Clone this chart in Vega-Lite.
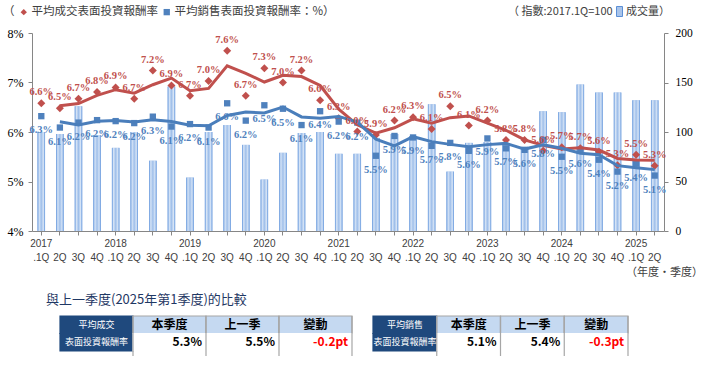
{
  "$schema": "https://vega.github.io/schema/vega-lite/v6.json",
  "background": "white",
  "padding": {"left": 3, "top": 6, "right": 0, "bottom": 0},
  "bounds": "flush",
  "spacing": 85,
  "resolve": {"scale": {"color": "independent", "fill": "independent", "shape": "independent"}, "legend": {"color": "independent", "fill": "independent", "shape": "independent"}},
  "config": {
    "view": {"stroke": null},
    "font": "Noto Sans CJK TC",
    "axis": {"domainColor": "#868686", "tickColor": "#868686", "grid": false}
  },
  "datasets": {
    "main": [
      {"q": "2017 .1Q", "v": 100, "r": 0.0658, "b": 0.0632, "rm": null, "bm": null},
      {"q": "2017 2Q", "v": 98, "r": 0.0648, "b": 0.0609, "rm": 0.0653, "bm": 0.06205},
      {"q": "2017 3Q", "v": 126, "r": 0.0667, "b": 0.0619, "rm": 0.06575, "bm": 0.0614},
      {"q": "2017 4Q", "v": 97, "r": 0.0681, "b": 0.0624, "rm": 0.0674, "bm": 0.06215},
      {"q": "2018 .1Q", "v": 84, "r": 0.0690, "b": 0.0622, "rm": 0.06855, "bm": 0.0623},
      {"q": "2018 2Q", "v": 100, "r": 0.0667, "b": 0.0618, "rm": 0.06785, "bm": 0.0620},
      {"q": "2018 3Q", "v": 71, "r": 0.0724, "b": 0.0631, "rm": 0.06955, "bm": 0.06245},
      {"q": "2018 4Q", "v": 146, "r": 0.0694, "b": 0.0611, "rm": 0.0709, "bm": 0.0621},
      {"q": "2019 .1Q", "v": 54, "r": 0.0673, "b": 0.0616, "rm": 0.06835, "bm": 0.06135},
      {"q": "2019 2Q", "v": 100, "r": 0.0703, "b": 0.0609, "rm": 0.0688, "bm": 0.06125},
      {"q": "2019 3Q", "v": 107, "r": 0.0764, "b": 0.0658, "rm": 0.07335, "bm": 0.06335},
      {"q": "2019 4Q", "v": 87, "r": 0.0673, "b": 0.0623, "rm": 0.07185, "bm": 0.06405},
      {"q": "2020 .1Q", "v": 52, "r": 0.0729, "b": 0.0654, "rm": 0.0701, "bm": 0.06385},
      {"q": "2020 2Q", "v": 79, "r": 0.0700, "b": 0.0647, "rm": 0.07145, "bm": 0.06505},
      {"q": "2020 3Q", "v": 99, "r": 0.0724, "b": 0.0614, "rm": 0.0712, "bm": 0.06305},
      {"q": "2020 4Q", "v": 100, "r": 0.0664, "b": 0.0642, "rm": 0.0694, "bm": 0.0628},
      {"q": "2021 .1Q", "v": 78, "r": 0.0628, "b": 0.0621, "rm": 0.0646, "bm": 0.06315},
      {"q": "2021 2Q", "v": 78, "r": 0.0601, "b": 0.0619, "rm": 0.06145, "bm": 0.0620},
      {"q": "2021 3Q", "v": 94, "r": 0.0594, "b": 0.0552, "rm": 0.05975, "bm": 0.05855},
      {"q": "2021 4Q", "v": 98, "r": 0.0623, "b": 0.0592, "rm": 0.06085, "bm": 0.0572},
      {"q": "2022 .1Q", "v": 96, "r": 0.0630, "b": 0.0589, "rm": 0.06265, "bm": 0.05905},
      {"q": "2022 2Q", "v": 128, "r": 0.0606, "b": 0.0572, "rm": 0.0618, "bm": 0.05805},
      {"q": "2022 3Q", "v": 60, "r": 0.0652, "b": 0.0578, "rm": 0.0629, "bm": 0.0575},
      {"q": "2022 4Q", "v": 89, "r": 0.0613, "b": 0.0562, "rm": 0.06325, "bm": 0.0570},
      {"q": "2023 .1Q", "v": 90, "r": 0.0623, "b": 0.0587, "rm": 0.0618, "bm": 0.05745},
      {"q": "2023 2Q", "v": 88, "r": 0.0584, "b": 0.0567, "rm": 0.06035, "bm": 0.0577},
      {"q": "2023 3Q", "v": 83, "r": 0.0584, "b": 0.0564, "rm": 0.0584, "bm": 0.05655},
      {"q": "2023 4Q", "v": 121, "r": 0.0562, "b": 0.0584, "rm": 0.0573, "bm": 0.0574},
      {"q": "2024 .1Q", "v": 120, "r": 0.0569, "b": 0.0550, "rm": 0.05655, "bm": 0.0567},
      {"q": "2024 2Q", "v": 148, "r": 0.0567, "b": 0.0564, "rm": 0.0568, "bm": 0.0557},
      {"q": "2024 3Q", "v": 140, "r": 0.0560, "b": 0.0544, "rm": 0.05635, "bm": 0.0554},
      {"q": "2024 4Q", "v": 140, "r": 0.0533, "b": 0.0520, "rm": 0.05465, "bm": 0.0532},
      {"q": "2025 .1Q", "v": 132, "r": 0.0554, "b": 0.0536, "rm": 0.05435, "bm": 0.0528},
      {"q": "2025 2Q", "v": 132, "r": 0.0532, "b": 0.0512, "rm": 0.0543, "bm": 0.0524}
    ],
    "table": [
      {"tbl": 1, "col": "label", "row": "header", "kind": "label", "text": "平均成交"},
      {"tbl": 1, "col": "label", "row": "value", "kind": "label", "text": "表面投資報酬率"},
      {"tbl": 1, "col": "cur", "row": "header", "kind": "header", "text": "本季度"},
      {"tbl": 1, "col": "prev", "row": "header", "kind": "header", "text": "上一季"},
      {"tbl": 1, "col": "chg", "row": "header", "kind": "header", "text": "變動"},
      {"tbl": 1, "col": "cur", "row": "value", "kind": "value", "text": "5.3%"},
      {"tbl": 1, "col": "prev", "row": "value", "kind": "value", "text": "5.5%"},
      {"tbl": 1, "col": "chg", "row": "value", "kind": "change", "text": "-0.2pt"},
      {"tbl": 2, "col": "label", "row": "header", "kind": "label", "text": "平均銷售"},
      {"tbl": 2, "col": "label", "row": "value", "kind": "label", "text": "表面投資報酬率"},
      {"tbl": 2, "col": "cur", "row": "header", "kind": "header", "text": "本季度"},
      {"tbl": 2, "col": "prev", "row": "header", "kind": "header", "text": "上一季"},
      {"tbl": 2, "col": "chg", "row": "header", "kind": "header", "text": "變動"},
      {"tbl": 2, "col": "cur", "row": "value", "kind": "value", "text": "5.1%"},
      {"tbl": 2, "col": "prev", "row": "value", "kind": "value", "text": "5.4%"},
      {"tbl": 2, "col": "chg", "row": "value", "kind": "change", "text": "-0.3pt"}
    ]
  },
  "vconcat": [
    {
      "width": 632,
      "height": 198,
      "data": {"name": "main"},
      "encoding": {
        "x": {
          "field": "q", "type": "nominal", "sort": null,
          "scale": {"paddingInner": 0, "paddingOuter": 0},
          "axis": {
            "title": "（年度·季度）", "titleAnchor": "end", "titleAlign": "center", "titlePadding": 4,
            "titleFont": "Noto Sans CJK TC", "titleFontSize": 11, "titleFontWeight": "normal", "titleColor": "#404040",
            "labelAngle": 0, "labelFont": "Liberation Sans", "labelFontSize": 10, "labelColor": "#404040",
            "labelLineHeight": 14, "labelPadding": 3, "labelOverlap": false,
            "labelExpr": "[indexof(datum.value, '.1Q') > 0 ? slice(datum.value, 0, 4) : ' ', slice(datum.value, 5)]",
            "tickSize": 4
          }
        }
      },
      "layer": [
        {
          "layer": [
            {
              "mark": {"type": "bar", "width": 7.5},
              "encoding": {
                "y": {"field": "v", "type": "quantitative", "scale": {"domain": [0, 200]},
                  "axis": {"orient": "right", "values": [0, 50, 100, 150, 200], "title": null, "labelFont": "Liberation Serif", "labelFontSize": 11.5, "labelColor": "#000000", "tickSize": 4, "labelPadding": 7}},
                "fill": {"datum": "成交量）", "type": "nominal", "scale": {"range": ["#a9c4ea"]},
                  "legend": {"orient": "none", "legendX": 476, "legendY": -27, "direction": "horizontal",
                    "title": "（ 指數:2017.1Q=100", "titleOrient": "left", "titleFont": "Noto Sans CJK TC", "titleFontSize": 11, "titleFontWeight": "normal", "titleColor": "#404040", "titlePadding": 1,
                    "labelFont": "Noto Sans CJK TC", "labelFontSize": 11, "labelColor": "#404040", "labelOffset": 1,
                    "symbolType": "M-0.6,-1H0.6V1H-0.6Z", "symbolSize": 100, "symbolStrokeColor": "#5b8fd6", "symbolStrokeWidth": 1}}
              }
            },
            {
              "mark": {"type": "bar", "width": 7.5,
                "color": {"x1": 0, "y1": 0, "x2": 1, "y2": 0, "gradient": "linear",
                  "stops": [{"offset": 0, "color": "#5f94dc"}, {"offset": 0.22, "color": "#d6e4f6"}, {"offset": 0.5, "color": "#9fbfea"}, {"offset": 0.78, "color": "#d6e4f6"}, {"offset": 1, "color": "#5f94dc"}]}},
              "encoding": {"y": {"field": "v", "type": "quantitative"}}
            }
          ]
        },
        {
          "layer": [
            {
              "mark": {"type": "point", "filled": true, "size": 64, "opacity": 1},
              "encoding": {
                "y": {"field": "r", "type": "quantitative", "scale": {"domain": [0.04, 0.08]},
                  "axis": {"orient": "left", "values": [0.04, 0.05, 0.06, 0.07, 0.08], "format": ".0%", "title": null, "labelFont": "Liberation Serif", "labelFontSize": 12, "labelColor": "#000000", "tickSize": 4, "labelPadding": 5}},
                "color": {"datum": "平均成交表面投資報酬率", "type": "nominal",
                  "scale": {"domain": ["平均成交表面投資報酬率", "平均銷售表面投資報酬率：%）"], "range": ["#c0504d", "#4f81bd"]},
                  "legend": {"orient": "none", "legendX": -29, "legendY": -27, "direction": "horizontal",
                    "title": "（", "titleOrient": "left", "titleFont": "Noto Sans CJK TC", "titleFontSize": 11.5, "titleFontWeight": "normal", "titleColor": "#404040", "titlePadding": 3,
                    "labelFont": "Noto Sans CJK TC", "labelFontSize": 11.5, "labelColor": "#404040", "labelOffset": 2, "columnPadding": 3, "labelLimit": 400,
                    "symbolSize": 40}},
                "shape": {"datum": "平均成交表面投資報酬率", "type": "nominal",
                  "scale": {"domain": ["平均成交表面投資報酬率", "平均銷售表面投資報酬率：%）"], "range": ["diamond", "square"]},
                  "legend": {"orient": "none", "legendX": -29, "legendY": -27, "direction": "horizontal",
                    "title": "（", "titleOrient": "left", "titleFont": "Noto Sans CJK TC", "titleFontSize": 11.5, "titleFontWeight": "normal", "titleColor": "#404040", "titlePadding": 3,
                    "labelFont": "Noto Sans CJK TC", "labelFontSize": 11.5, "labelColor": "#404040", "labelOffset": 2, "columnPadding": 3, "labelLimit": 400,
                    "symbolSize": 40}}
              }
            },
            {
              "mark": {"type": "point", "filled": true, "size": 40, "opacity": 1},
              "encoding": {
                "y": {"field": "b", "type": "quantitative"},
                "color": {"datum": "平均銷售表面投資報酬率：%）", "type": "nominal"},
                "shape": {"datum": "平均銷售表面投資報酬率：%）", "type": "nominal"}
              }
            },
            {
              "mark": {"type": "line", "color": "#c0504d", "strokeWidth": 3},
              "encoding": {"y": {"field": "rm", "type": "quantitative"}}
            },
            {
              "mark": {"type": "line", "color": "#4a7ebb", "strokeWidth": 3},
              "encoding": {"y": {"field": "bm", "type": "quantitative"}}
            },
            {
              "mark": {"type": "text", "color": "#c0504d", "font": "Liberation Serif", "fontSize": 10.5, "fontWeight": "bold", "dy": -11},
              "encoding": {
                "y": {"field": "r", "type": "quantitative"},
                "text": {"field": "r", "type": "quantitative", "format": ".1%"}
              }
            },
            {
              "mark": {"type": "text", "color": "#4f81bd", "font": "Liberation Serif", "fontSize": 10.5, "fontWeight": "bold", "dy": 14},
              "encoding": {
                "y": {"field": "b", "type": "quantitative"},
                "text": {"field": "b", "type": "quantitative", "format": ".1%"}
              }
            }
          ]
        }
      ],
      "resolve": {"scale": {"y": "independent"}}
    },
    {
      "title": {"text": "與上一季度(2025年第1季度)的比較", "anchor": "start", "dx": 14, "offset": 8, "font": "Noto Sans CJK TC", "fontSize": 13, "fontWeight": "normal", "color": "#1f3864"},
      "spacing": 19,
      "hconcat": [
        {
          "width": 320,
          "height": 40,
          "data": {"name": "table"},
          "transform": [{"filter": "datum.tbl === 1"}],
          "encoding": {
            "x": {"field": "col", "type": "nominal", "scale": {"domain": ["label", "cur", "prev", "chg"], "paddingInner": 0, "paddingOuter": 0.1918, "align": 1}, "axis": null}
          },
          "layer": [
            {
              "mark": {"type": "rect", "strokeWidth": 1.2},
              "encoding": {
                "y": {"field": "row", "type": "nominal", "scale": {"domain": ["header", "value"], "paddingInner": 0, "paddingOuter": 0.1429, "align": 0}, "axis": null},
                "fill": {"condition": [{"test": "datum.kind === 'label'", "value": "#1f497d"}, {"test": "datum.kind === 'header'", "value": "#c5d9f1"}], "value": "#ffffff"},
                "stroke": {"condition": [{"test": "datum.kind === 'label'", "value": "#1f497d"}, {"test": "datum.kind === 'header'", "value": "#a6a6a6"}], "value": "#ffffff"}
              }
            },
            {
              "transform": [{"filter": "datum.kind === 'header'"}],
              "mark": {"type": "rule", "color": "#a6a6a6", "strokeWidth": 1.2},
              "encoding": {"x": {"field": "col", "type": "nominal", "bandPosition": 0}}
            },
            {
              "transform": [{"filter": "datum.kind === 'header' && datum.col === 'chg'"}],
              "mark": {"type": "rule", "color": "#a6a6a6", "strokeWidth": 1.2},
              "encoding": {"x": {"field": "col", "type": "nominal", "bandPosition": 1}}
            },
            {
              "transform": [{"filter": "datum.kind === 'label'"}],
              "mark": {"type": "text", "color": "#ffffff", "fontSize": 9, "font": "Noto Sans CJK TC"},
              "encoding": {"y": {"field": "row", "type": "nominal"}, "text": {"field": "text", "type": "nominal"}}
            },
            {
              "transform": [{"filter": "datum.kind === 'header'"}],
              "mark": {"type": "text", "color": "#000000", "fontSize": 12, "fontWeight": "bold", "font": "Noto Sans CJK TC"},
              "encoding": {"y": {"field": "row", "type": "nominal"}, "text": {"field": "text", "type": "nominal"}}
            },
            {
              "transform": [{"filter": "datum.kind === 'value' || datum.kind === 'change'"}],
              "mark": {"type": "text", "fontSize": 12, "fontWeight": "bold", "font": "Noto Sans CJK TC", "align": "right", "dx": -4},
              "encoding": {
                "x": {"field": "col", "type": "nominal", "bandPosition": 1},
                "y": {"field": "row", "type": "nominal"},
                "text": {"field": "text", "type": "nominal"},
                "color": {"condition": {"test": "datum.kind === 'change'", "value": "#ff0000"}, "value": "#000000"}
              }
            }
          ]
        },
        {
          "width": 255,
          "height": 40,
          "data": {"name": "table"},
          "transform": [{"filter": "datum.tbl === 2"}],
          "encoding": {
            "x": {"field": "col", "type": "nominal", "scale": {"domain": ["label", "cur", "prev", "chg"], "paddingInner": 0, "paddingOuter": 0}, "axis": null}
          },
          "layer": [
            {
              "mark": {"type": "rect", "strokeWidth": 1.2},
              "encoding": {
                "y": {"field": "row", "type": "nominal", "scale": {"domain": ["header", "value"], "paddingInner": 0, "paddingOuter": 0.1429, "align": 0}, "axis": null},
                "fill": {"condition": [{"test": "datum.kind === 'label'", "value": "#1f497d"}, {"test": "datum.kind === 'header'", "value": "#c5d9f1"}], "value": "#ffffff"},
                "stroke": {"condition": [{"test": "datum.kind === 'label'", "value": "#1f497d"}, {"test": "datum.kind === 'header'", "value": "#a6a6a6"}], "value": "#ffffff"}
              }
            },
            {
              "transform": [{"filter": "datum.kind === 'header'"}],
              "mark": {"type": "rule", "color": "#a6a6a6", "strokeWidth": 1.2},
              "encoding": {"x": {"field": "col", "type": "nominal", "bandPosition": 0}}
            },
            {
              "transform": [{"filter": "datum.kind === 'header' && datum.col === 'chg'"}],
              "mark": {"type": "rule", "color": "#a6a6a6", "strokeWidth": 1.2},
              "encoding": {"x": {"field": "col", "type": "nominal", "bandPosition": 1}}
            },
            {
              "transform": [{"filter": "datum.kind === 'label'"}],
              "mark": {"type": "text", "color": "#ffffff", "fontSize": 9, "font": "Noto Sans CJK TC"},
              "encoding": {"y": {"field": "row", "type": "nominal"}, "text": {"field": "text", "type": "nominal"}}
            },
            {
              "transform": [{"filter": "datum.kind === 'header'"}],
              "mark": {"type": "text", "color": "#000000", "fontSize": 12, "fontWeight": "bold", "font": "Noto Sans CJK TC"},
              "encoding": {"y": {"field": "row", "type": "nominal"}, "text": {"field": "text", "type": "nominal"}}
            },
            {
              "transform": [{"filter": "datum.kind === 'value' || datum.kind === 'change'"}],
              "mark": {"type": "text", "fontSize": 12, "fontWeight": "bold", "font": "Noto Sans CJK TC", "align": "right", "dx": -4},
              "encoding": {
                "x": {"field": "col", "type": "nominal", "bandPosition": 1},
                "y": {"field": "row", "type": "nominal"},
                "text": {"field": "text", "type": "nominal"},
                "color": {"condition": {"test": "datum.kind === 'change'", "value": "#ff0000"}, "value": "#000000"}
              }
            }
          ]
        }
      ]
    }
  ]
}
